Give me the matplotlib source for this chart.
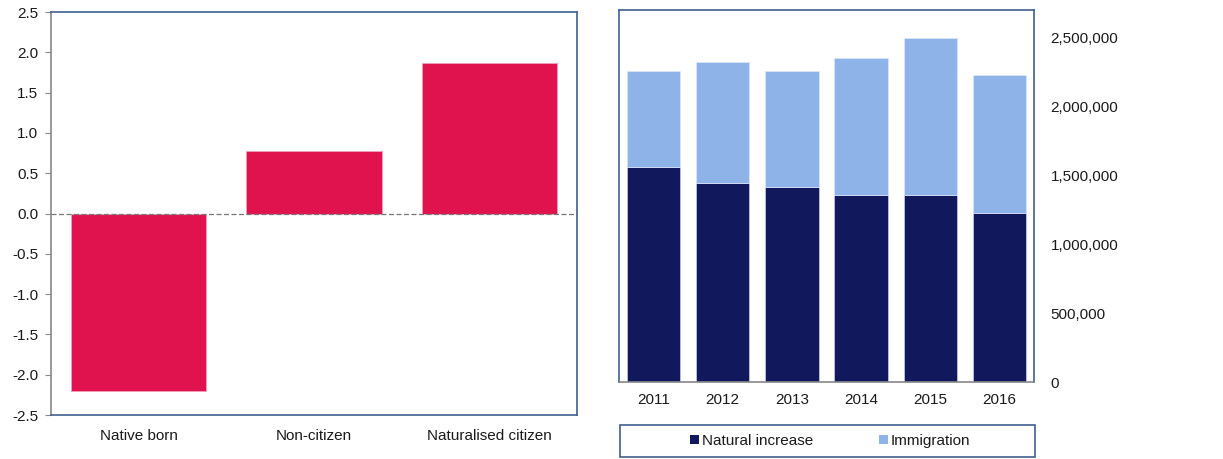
import matplotlib
matplotlib.use("Agg")
import matplotlib.pyplot as plt
from matplotlib.ticker import FuncFormatter
from matplotlib.patches import Patch, Rectangle

plt.rcParams['font.family'] = ['Liberation Sans', 'DejaVu Sans']
plt.rcParams['font.size'] = 11

# 左图数据
groups = ["Native born", "Non-citizen", "Naturalised citizen"]
change = [-2.2, 0.78, 1.87]

# 右图数据
years = ["2011", "2012", "2013", "2014", "2015", "2016"]
natural = [1558000, 1442000, 1413000, 1355000, 1355000, 1225000]
immigration = [696000, 884000, 841000, 1000000, 1145000, 1000000]

pink = "#e0134f"
navy = "#12185c"
light = "#8db3e8"
frame = "#3f5f91"
txt = "#1a1a1a"

fig = plt.figure(figsize=(12.23, 4.59), dpi=100)

# 左图
ax1 = fig.add_axes([51/1223, 1-415/459, 526/1223, 403/459])
ax1.bar(range(len(groups)), change, width=0.77, color=pink, edgecolor="#f0a0b8", linewidth=0.6, zorder=2)
ax1.axhline(0, color="#777777", linestyle=(0, (4, 2)), linewidth=0.9, zorder=3)
ax1.set_xlim(-0.5, 2.5)
ax1.set_ylim(-2.5, 2.5)
ax1.set_yticks([-2.5, -2.0, -1.5, -1.0, -0.5, 0.0, 0.5, 1.0, 1.5, 2.0, 2.5])
ax1.yaxis.set_major_formatter(FuncFormatter(lambda v, p: f"{v:.1f}"))
ax1.set_xticks(range(len(groups)))
ax1.set_xticklabels(groups, color=txt)
ax1.tick_params(axis="x", length=0, pad=10)
ax1.tick_params(axis="y", length=4, color="#888888", labelcolor=txt, pad=5)
for s in ["top", "right", "bottom"]:
    ax1.spines[s].set_color(frame)
    ax1.spines[s].set_linewidth(1.2)
ax1.spines["left"].set_color("#888888")
ax1.spines["left"].set_linewidth(1.2)

# 右图
ax2 = fig.add_axes([619/1223, 1-382/459, 415/1223, 372/459])
x = range(len(years))
ax2.bar(x, natural, width=0.77, color=navy, edgecolor="#c8d0e8", linewidth=0.5, label="Natural increase", zorder=2)
ax2.bar(x, immigration, width=0.77, bottom=natural, color=light, edgecolor="#dce8f8", linewidth=0.5, label="Immigration", zorder=2)
ax2.set_xlim(-0.5, 5.5)
ax2.set_ylim(0, 2700000)
ax2.set_yticks([0, 500000, 1000000, 1500000, 2000000, 2500000])
ax2.yaxis.set_major_formatter(FuncFormatter(lambda v, p: f"{int(v):,}"))
ax2.yaxis.tick_right()
ax2.set_xticks(list(x))
ax2.set_xticklabels(years, color=txt)
ax2.tick_params(axis="x", length=0, pad=8)
ax2.tick_params(axis="y", length=0, pad=12, labelcolor=txt)
for s in ax2.spines.values():
    s.set_color(frame)
    s.set_linewidth(1.2)
ax2.spines["bottom"].set_color("#888888")

# 图例框
fig.patches.append(Rectangle((620/1223, 1-457/459), 415/1223, 32/459, transform=fig.transFigure,
                             fill=False, edgecolor=frame, linewidth=1.2))
handles = [Patch(facecolor=navy, label="Natural increase"), Patch(facecolor=light, label="Immigration")]
leg = fig.legend(handles=handles, loc="center", ncol=2,
                 bbox_to_anchor=(830/1223, 1-441/459),
                 frameon=False, handlelength=0.6, handleheight=0.6,
                 handletextpad=0.2, columnspacing=4.3)
for t in leg.get_texts():
    t.set_color(txt)

fig.savefig("out.png", dpi=100)
